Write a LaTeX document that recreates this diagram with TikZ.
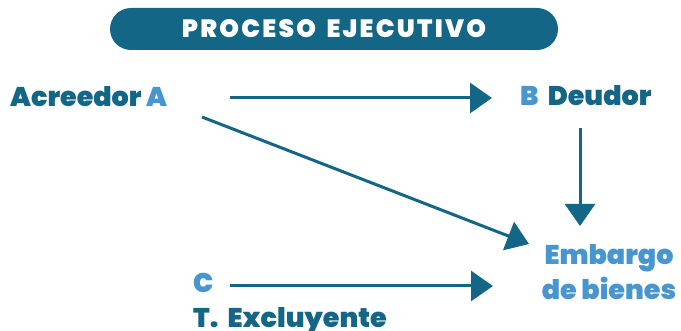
\documentclass[tikz,border=0pt]{standalone}
\usepackage{fontspec}
\setmainfont{Poppins}[BoldFont={Poppins Black}]
\newfontfamily\titlefont{Poppins Black}[LetterSpace=9,WordSpace=1.6]
\usetikzlibrary{arrows.meta}
\definecolor{dteal}{HTML}{136685}
\definecolor{lblue}{HTML}{4796D0}
\begin{document}
\begin{tikzpicture}[x=1pt,y=-1pt,
  lbl/.style={font=\bfseries\fontsize{27}{35}\selectfont, text=dteal, inner sep=0pt},
  conn/.style={draw=dteal, line width=3pt, -{Triangle[length=22pt,width=30pt]}}]
\useasboundingbox (0,0) rectangle (681,331);
\node[fill=dteal, rounded corners=21pt, minimum width=448pt, minimum height=42pt, inner sep=0pt,
  text=white, font=\titlefont\fontsize{25}{27}\selectfont] (title) at (334,29) {\raisebox{-8.5pt}[0pt][0pt]{PROCESO EJECUTIVO}};
\node[lbl, anchor=base west] (acr) at (10,107) {Acreedor \textcolor{lblue}{A}};
\node[lbl, anchor=base west] (deu) at (520,106) {\textcolor{lblue}{B}\ \,Deudor};
\node[lbl, text=lblue, align=center, anchor=base] (emb) at (609,300) {Embargo\\de bienes};
\node[lbl, text=lblue, anchor=base west] (c) at (193,293) {C};
\node[lbl, anchor=base west] (t) at (193,328) {T.\ \ Excluyente};
\coordinate (a1s) at (230,98);
\coordinate (a1e) at (492,98);
\draw[conn] (a1s) -- (a1e);
\coordinate (a2s) at (580,128);
\coordinate (a2e) at (580,226);
\draw[conn] (a2s) -- (a2e);
\coordinate (a3s) at (202,117);
\coordinate (a3e) at (529,244);
\draw[conn] (a3s) -- (a3e);
\coordinate (a4s) at (230,286);
\coordinate (a4e) at (493,286);
\draw[conn] (a4s) -- (a4e);
\end{tikzpicture}
\end{document}
